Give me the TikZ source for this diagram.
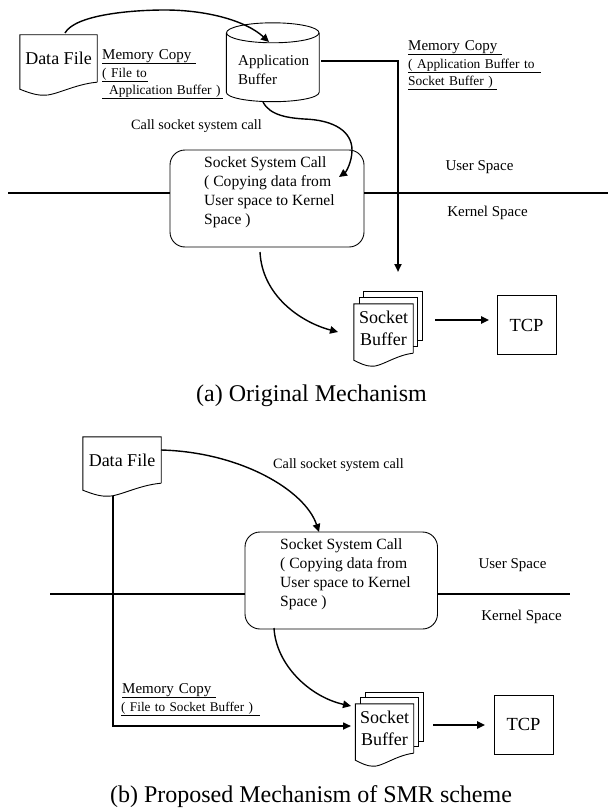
\documentclass[tikz,border=0pt]{standalone}
\usepackage{fontspec}
\setmainfont{Liberation Serif}
\usetikzlibrary{arrows.meta,calc}

\newcommand{\fsz}[1]{\fontsize{#1}{#1}\selectfont}
\newcommand{\waveoutline}[1]{
  \draw[thin line] (#1.south east) -- (#1.north east) -- (#1.north west) -- ($(#1.south west)+(0,7)$)
    .. controls ($(#1.south west)!.1!(#1.south east)+(0,10)$) and ($(#1.south west)!.2!(#1.south east)+(0,13)$) .. ($(#1.south west)!.3!(#1.south east)+(0,13)$)
    .. controls ($(#1.south west)!.45!(#1.south east)+(0,14)$) and ($(#1.south west)!.7!(#1.south east)+(0,2)$) .. (#1.south east);
}

\tikzset{
  thin line/.style={line width=0.9pt},
  wavedoc/.style={inner sep=0pt, font=\fsz{18}},
  stackpage/.style={draw, thin line, fill=white, inner sep=0pt},
  sysbox/.style={draw, thin line, rounded corners=15pt, inner sep=0pt, minimum width=194pt, minimum height=97pt},
  systext/.style={anchor=north west, inner sep=0pt, align=left, font=\fsz{15.6}},
  tcpbox/.style={draw, thin line, inner sep=0pt, minimum size=59pt, font=\fsz{18.5}},
  plaintext/.style={inner sep=0pt, font=\fsz{15}},
  calltext/.style={inner sep=0pt, font=\fsz{14.2}},
  memhead/.style={anchor=west, inner sep=0pt, minimum height=14pt, align=left, font=\fsz{15}},
  memsub/.style={anchor=west, inner sep=0pt, minimum height=14pt, align=left, font=\fsz{13.4}},
  caption/.style={inner sep=0pt, font=\fsz{24}},
  uline/.style={line width=1pt},
  wire/.style={line width=1.3pt},
  flow/.style={line width=1.4pt, -{Triangle[length=8pt,width=7.5pt]}},
  thickflow/.style={line width=2pt, -{Triangle[length=8pt,width=7pt]}},
}

\begin{document}
\begin{tikzpicture}[x=1pt, y=-1pt]
  \useasboundingbox (0,0) rectangle (608,808);

  \node [wavedoc, minimum width=77pt, minimum height=47pt] at (58.5,58.5) (fileA) {Data File};
  \waveoutline{fileA}

  \node [inner sep=0pt, minimum width=92.5pt, minimum height=59pt] at (272.75,62.5) (appbuf) {};
  \draw [thin line] (appbuf.north) ellipse [x radius=46.25, y radius=10];
  \draw [thin line] (appbuf.north west) -- (appbuf.south west)
    .. controls +(0,5.5) and +(-25,0) .. ($(appbuf.south)+(0,9.5)$)
    .. controls +(25,0) and +(0,5.5) .. (appbuf.south east) -- (appbuf.north east);
  \node [plaintext, anchor=west, align=left] at (238,69.5) (apptext) {Application\\[4pt]Buffer};

  \node [memhead, text width=93.5pt] at (102,56) (mcA) {Memory Copy};
  \node [memsub, text width=46pt] at (102,74) (mcB) {( File to};
  \node [memsub, text width=121pt] at (102,91) (mcC) {\hspace{7pt}Application Buffer )};
  \node [memhead, text width=94pt] at (408,47.5) (mcD) {Memory Copy};
  \node [memsub, text width=133pt] at (408,65) (mcE) {( Application Buffer to};
  \node [memsub, text width=89pt] at (408,82) (mcF) {Socket Buffer )};

  \node [calltext] at (196.5,126) (callA) {Call socket system call};
  \node [sysbox] at (267,198.5) (sysA) {};
  \node [systext] at (204,156.5) (sysAtext) {Socket System Call\\[3.4pt]( Copying data from\\[3.4pt]User space to Kernel\\[3.4pt]Space )};
  \node [plaintext] at (479.5,167.5) (userA) {User Space};
  \node [plaintext] at (487.5,212.5) (kernelA) {Kernel Space};

  \node [stackpage, minimum width=59pt, minimum height=49pt] at (392.5,316) (pageAc) {};
  \node [stackpage, minimum width=58pt, minimum height=49pt] at (388,322) (pageAb) {};
  \node [wavedoc, fill=white, minimum width=59pt, minimum height=49pt] at (383.5,328.5) (bufA) {};
  \waveoutline{bufA}
  \node [wavedoc, align=center] at (bufA.center) (bufAtext) {Socket\\[4.5pt]Buffer};
  \node [tcpbox] at (526.5,325) (tcpA) {TCP};
  \node [caption] at (311.5,395.5) (capA) {(a) Original Mechanism};

  \node [wavedoc, minimum width=78pt, minimum height=46pt] at (122,460) (fileB) {Data File};
  \waveoutline{fileB}
  \node [calltext] at (338.5,465) (callB) {Call socket system call};
  \node [sysbox, minimum width=192.5pt] at (341.25,580.5) (sysB) {};
  \node [systext] at (280,538.5) (sysBtext) {Socket System Call\\[3.4pt]( Copying data from\\[3.4pt]User space to Kernel\\[3.4pt]Space )};
  \node [plaintext] at (512.5,565.5) (userB) {User Space};
  \node [plaintext] at (521.5,616.5) (kernelB) {Kernel Space};
  \node [memhead, text width=94pt] at (122,690) (mcG) {Memory Copy};
  \node [memsub, text width=139pt, font=\fsz{13.2}] at (121,708) (mcH) {( File to Socket Buffer )};

  \node [stackpage, minimum width=58pt, minimum height=49pt] at (394,716.5) (pageBc) {};
  \node [stackpage, minimum width=58pt, minimum height=49pt] at (389,722) (pageBb) {};
  \node [wavedoc, fill=white, minimum width=58pt, minimum height=49pt] at (384.5,728.5) (bufB) {};
  \waveoutline{bufB}
  \node [wavedoc, align=center] at (bufB.center) (bufBtext) {Socket\\[4.5pt]Buffer};
  \node [tcpbox] at (523.5,724.5) (tcpB) {TCP};
  \node [caption] at (311,797) (capB) {(b) Proposed Mechanism of SMR scheme};

  \foreach \mc in {mcA,mcB,mcC,mcD,mcE,mcF,mcG,mcH}
    \draw [uline] (\mc.south west) -- (\mc.south east);

  \coordinate (lineAl) at (8,193);
  \coordinate (lineAr) at (608,193);
  \coordinate (lineBl) at (50,594);
  \coordinate (lineBr) at (570,594);
  \draw [wire] (lineAl) -- (lineAl -| sysA.west);
  \draw [wire] (lineAr -| sysA.east) -- (lineAr);
  \draw [wire] (lineBl) -- (lineBl -| sysB.west);
  \draw [wire] (lineBr -| sysB.east) -- (lineBr);

  \coordinate (appin) at (269,42);
  \coordinate (appout) at (263,102);
  \coordinate (sysAin) at (339,177);
  \coordinate (sysAout) at (260,252);
  \coordinate (bufAin) at (338,332);
  \coordinate (bufAtop) at (398,272);
  \coordinate (bufAr) at (435,320);
  \coordinate (tcpAin) at (489,320);
  \draw [flow] (65,33) coordinate (fileAout) .. controls (75,15) and (130,10) .. (165,10)
    .. controls (205,10) and (245,20) .. (appin);
  \draw [flow] (appout) .. controls (270,116) and (290,118) .. (304,119)
    .. controls (335,120) and (352,132) .. (352,150)
    .. controls (352,162) and (346,172) .. (sysAin);
  \draw [flow] (sysAout) .. controls (262,295) and (300,322) .. (bufAin);
  \draw [thickflow] (321,61) coordinate (appright) -- (appright -| bufAtop) -- (bufAtop);
  \draw [flow] (bufAr) -- (tcpAin);

  \coordinate (fileBr) at (161,450);
  \coordinate (sysBin) at (319,532);
  \coordinate (sysBout) at (274,628);
  \coordinate (bufBin) at (351,706);
  \coordinate (fileBd) at (113,496);
  \coordinate (bufBleft) at (351,726);
  \coordinate (bufBr) at (433,725);
  \coordinate (tcpBin) at (485,725);
  \draw [flow] (fileBr) .. controls (240,452) and (305,490) .. (sysBin);
  \draw [flow] (sysBout) .. controls (276,665) and (310,697) .. (bufBin);
  \draw [thickflow, line width=1.6pt] (fileBd) -- (fileBd |- bufBleft) -- (bufBleft);
  \draw [flow] (bufBr) -- (tcpBin);
\end{tikzpicture}
\end{document}
